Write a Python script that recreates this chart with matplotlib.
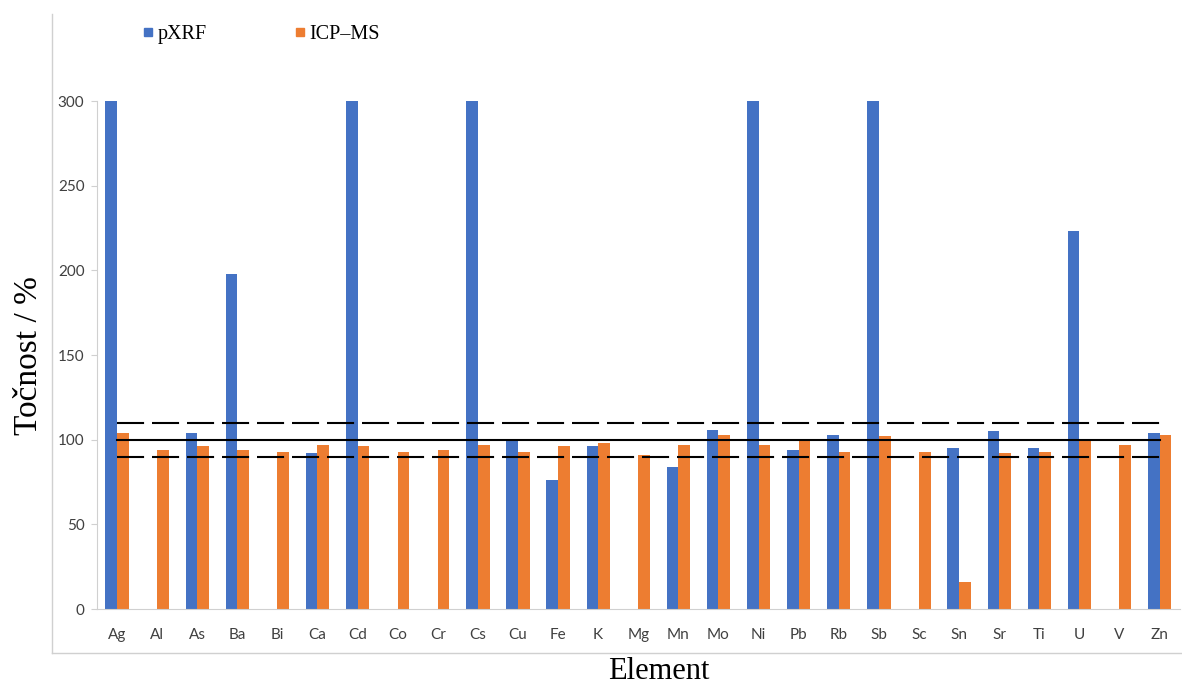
import numpy as np
import matplotlib.pyplot as plt
from matplotlib.lines import Line2D

elements = ["Ag", "Al", "As", "Ba", "Bi", "Ca", "Cd", "Co", "Cr", "Cs", "Cu", "Fe", "K", "Mg",
            "Mn", "Mo", "Ni", "Pb", "Rb", "Sb", "Sc", "Sn", "Sr", "Ti", "U", "V", "Zn"]
# nan = no pXRF value
pxrf = [300, np.nan, 104, 198, np.nan, 92, 300, np.nan, np.nan, 300, 100, 76, 96, np.nan,
        84, 106, 300, 94, 103, 300, np.nan, 95, 105, 95, 223, np.nan, 104]
icpms = [104, 94, 96, 94, 93, 97, 96, 93, 94, 97, 93, 96, 98, 91,
         97, 103, 97, 100, 93, 102, 93, 16, 92, 93, 100, 97, 103]
ref_line = 100
limits = [90, 110]

blue = "#4472C4"
orange = "#ED7D31"

fig = plt.figure(figsize=(11.82, 6.84), dpi=100)
ax = fig.add_axes([0.082, 0.1096, 0.916, 0.7427])

x = np.arange(len(elements))
w = 0.29
ax.bar(x - w / 2, pxrf, w, color=blue, label="pXRF")
ax.bar(x + w / 2, icpms, w, color=orange, label="ICP\u2013MS")

ax.plot([x[0], x[-1]], [ref_line, ref_line], color="black", lw=1.5)
for lim in limits:
    ax.plot([x[0], x[-1]], [lim, lim], color="black", lw=1.5, dashes=(13, 3.8))

ax.set_xlim(-0.5, len(elements) - 0.5)
ax.set_ylim(0, 300)
ax.set_yticks(range(0, 301, 50))
ax.set_xticks(x)
ax.set_xticklabels(elements)

for s in ["top", "right"]:
    ax.spines[s].set_visible(False)
ax.spines["left"].set_color("#D0D0D0")
ax.spines["bottom"].set_color("#D0D0D0")
ax.tick_params(axis="y", length=4, color="#D0D0D0", labelsize=11, labelcolor="#404040", pad=5)
ax.tick_params(axis="x", length=0, labelsize=11, labelcolor="#404040", pad=14)
for lbl in ax.get_xticklabels() + ax.get_yticklabels():
    lbl.set_family("Lato")

fig.text(0.024, 0.48, "Točnost / %", rotation=90, va="center", ha="center",
         family="Liberation Serif", fontsize=24)
fig.text(0.557, 1 - 679 / 684, "Element", va="baseline", ha="center",
         family="Liberation Serif", fontsize=22)

# chart border (left and bottom edges)
fig.add_artist(Line2D([0.044, 0.044], [0.045, 0.98], color="#D0D0D0", lw=1))
fig.add_artist(Line2D([0.044, 1.0], [0.045, 0.045], color="#D0D0D0", lw=1))

handles = [Line2D([], [], ls="", marker="s", markersize=6, color=blue),
           Line2D([], [], ls="", marker="s", markersize=6, color=orange)]
fig.legend(handles, ["pXRF", "ICP\u2013MS"], loc="center left", bbox_to_anchor=(0.106, 0.95),
           ncol=2, frameon=False, prop={"family": "Liberation Serif", "size": 14.5},
           handlelength=0.5, handletextpad=0.2, columnspacing=4.4)

fig.savefig("out.png", dpi=100)
